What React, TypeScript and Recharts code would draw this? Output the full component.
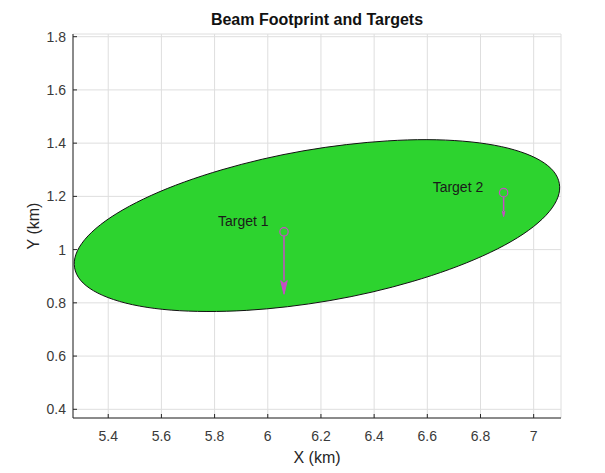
import { ScatterChart, Scatter, XAxis, YAxis, CartesianGrid, Label } from 'recharts';

// beam footprint outline (km), closed polygon
const footprintX = [
  7.101, 7.079, 7.029, 6.954, 6.855, 6.736, 6.601, 6.452, 6.296, 6.136, 5.978, 5.826,
  5.684, 5.558, 5.452, 5.367, 5.307, 5.274, 5.269, 5.291, 5.341, 5.416, 5.515, 5.634,
  5.769, 5.918, 6.074, 6.234, 6.393, 6.545, 6.686, 6.812, 6.919, 7.003, 7.063, 7.096,
];
const footprintY = [
  1.249, 1.296, 1.336, 1.369, 1.394, 1.409, 1.415, 1.410, 1.396, 1.373, 1.341, 1.301,
  1.255, 1.204, 1.150, 1.094, 1.037, 0.982, 0.931, 0.884, 0.844, 0.811, 0.786, 0.771,
  0.766, 0.770, 0.784, 0.807, 0.839, 0.879, 0.925, 0.976, 1.030, 1.086, 1.143, 1.198,
];

const targetNames = ['Target 1', 'Target 2'];
const targetX = [6.061, 6.887];
const targetY = [1.067, 1.214];
// tips of the velocity arrows
const arrowTipY = [0.832, 1.124];
// where the target names sit
const nameX = [5.813, 6.62];
const nameY = [1.089, 1.215];

const xTicks = [5.4, 5.6, 5.8, 6, 6.2, 6.4, 6.6, 6.8, 7];
const yTicks = [0.4, 0.6, 0.8, 1, 1.2, 1.4, 1.6, 1.8];

const MAGENTA = '#c84cc8';
const AXIS = '#262626';

const footprint = footprintX.map((x, i) => ({ x, y: footprintY[i] }));
const targets = targetX.map((x, i) => ({ x, y: targetY[i], name: targetNames[i] }));
const arrows = targetX.flatMap((x, i) => [
  { x, y: targetY[i] },
  { x, y: arrowTipY[i] },
]);
const names = nameX.map((x, i) => ({ x, y: nameY[i], name: targetNames[i] }));

const XTick = (p: any) => (
  <g>
    <line x1={p.x} y1={p.y} x2={p.x} y2={p.y - 4} stroke={AXIS} />
    <text x={p.x} y={p.y + 18} textAnchor="middle" dominantBaseline="central" fontSize={14} fill="#3a3a3a">
      {p.payload.value}
    </text>
  </g>
);

const YTick = (p: any) => (
  <g>
    <line x1={p.x} y1={p.y} x2={p.x + 4} y2={p.y} stroke={AXIS} />
    <text x={p.x - 7} y={p.y} textAnchor="end" dominantBaseline="central" fontSize={14} fill="#3a3a3a">
      {p.payload.value}
    </text>
  </g>
);

// draws each (start, tip) pair as a shaft with a filled head
const renderArrows = (props: any) => {
  const pts = props.points || [];
  const out = [];
  for (let i = 0; i + 1 < pts.length; i += 2) {
    const a = pts[i];
    const b = pts[i + 1];
    const len = Math.hypot(b.x - a.x, b.y - a.y) || 1;
    const ux = (b.x - a.x) / len;
    const uy = (b.y - a.y) / len;
    const head = len * 0.22;
    const half = head * 0.24;
    const bx = b.x - ux * head;
    const by = b.y - uy * head;
    out.push(
      <g key={i}>
        <line x1={a.x + ux * 4} y1={a.y + uy * 4} x2={bx} y2={by} stroke={MAGENTA} strokeWidth={1.5} />
        <path
          d={`M${b.x},${b.y} L${bx - uy * half},${by + ux * half} L${bx + ux * head * 0.2},${by + uy * head * 0.2} L${bx + uy * half},${by - ux * half} Z`}
          fill={MAGENTA}
          stroke={MAGENTA}
          strokeWidth={1}
        />
      </g>,
    );
  }
  return <g>{out}</g>;
};

const hidden = () => <g />;

export default function App() {
  return (
    <div
      style={{
        position: 'absolute',
        left: 0,
        top: 0,
        width: 605,
        height: 473,
        background: '#fff',
        fontFamily: '"Liberation Sans", Arial, Helvetica, sans-serif',
      }}
    >
      <div
        style={{
          position: 'absolute',
          left: 73,
          width: 488,
          top: 10,
          lineHeight: '20px',
          textAlign: 'center',
          fontWeight: 'bold',
          fontSize: 16,
          color: '#111',
        }}
      >
        Beam Footprint and Targets
      </div>
      <ScatterChart width={605} height={473} margin={{ top: 34, right: 44, bottom: 0, left: 0 }}>
        <CartesianGrid stroke="#dedede" />
        <XAxis
          type="number"
          dataKey="x"
          domain={[5.2675, 7.1028]}
          allowDataOverflow
          ticks={xTicks}
          interval={0}
          tickLine={false}
          tickSize={0}
          tickMargin={0}
          tick={(p: any) => <XTick {...p} />}
          axisLine={{ stroke: AXIS }}
          height={55}
        >
          <Label
            content={({ viewBox }: any) => (
              <text
                x={viewBox.x + viewBox.width / 2}
                y={viewBox.y + 39}
                textAnchor="middle"
                dominantBaseline="central"
                fontSize={16}
                fill="#262626"
              >
                X (km)
              </text>
            )}
          />
        </XAxis>
        <YAxis
          type="number"
          dataKey="y"
          domain={[0.3673, 1.8101]}
          allowDataOverflow
          ticks={yTicks}
          interval={0}
          tickLine={false}
          tickSize={0}
          tickMargin={0}
          tick={(p: any) => <YTick {...p} />}
          axisLine={{ stroke: AXIS }}
          width={73}
        >
          <Label
            content={({ viewBox }: any) => {
              const cy = viewBox.y + viewBox.height / 2;
              return (
                <text
                  x={33}
                  y={cy}
                  transform={`rotate(-90 33 ${cy})`}
                  textAnchor="middle"
                  dominantBaseline="central"
                  fontSize={16}
                  fill="#262626"
                >
                  Y (km)
                </text>
              );
            }}
          />
        </YAxis>
        <Scatter
          data={footprint}
          isAnimationActive={false}
          shape={hidden}
          line={{ fill: '#2dd32f', stroke: '#111', strokeWidth: 1 }}
          lineType="joint"
          lineJointType="basisClosed"
        />
        <Scatter
          data={arrows}
          isAnimationActive={false}
          shape={hidden}
          line={renderArrows}
          lineType="joint"
        />
        <Scatter
          data={targets}
          isAnimationActive={false}
          shape={(p: any) => (
            <circle cx={p.cx} cy={p.cy} r={4.2} fill="none" stroke={MAGENTA} strokeWidth={1.2} />
          )}
        />
        <Scatter
          data={names}
          isAnimationActive={false}
          shape={(p: any) => (
            <text x={p.cx} y={p.cy} fontSize={14} fill="#1a1a1a">
              {p.payload.name}
            </text>
          )}
        />
      </ScatterChart>
    </div>
  );
}
